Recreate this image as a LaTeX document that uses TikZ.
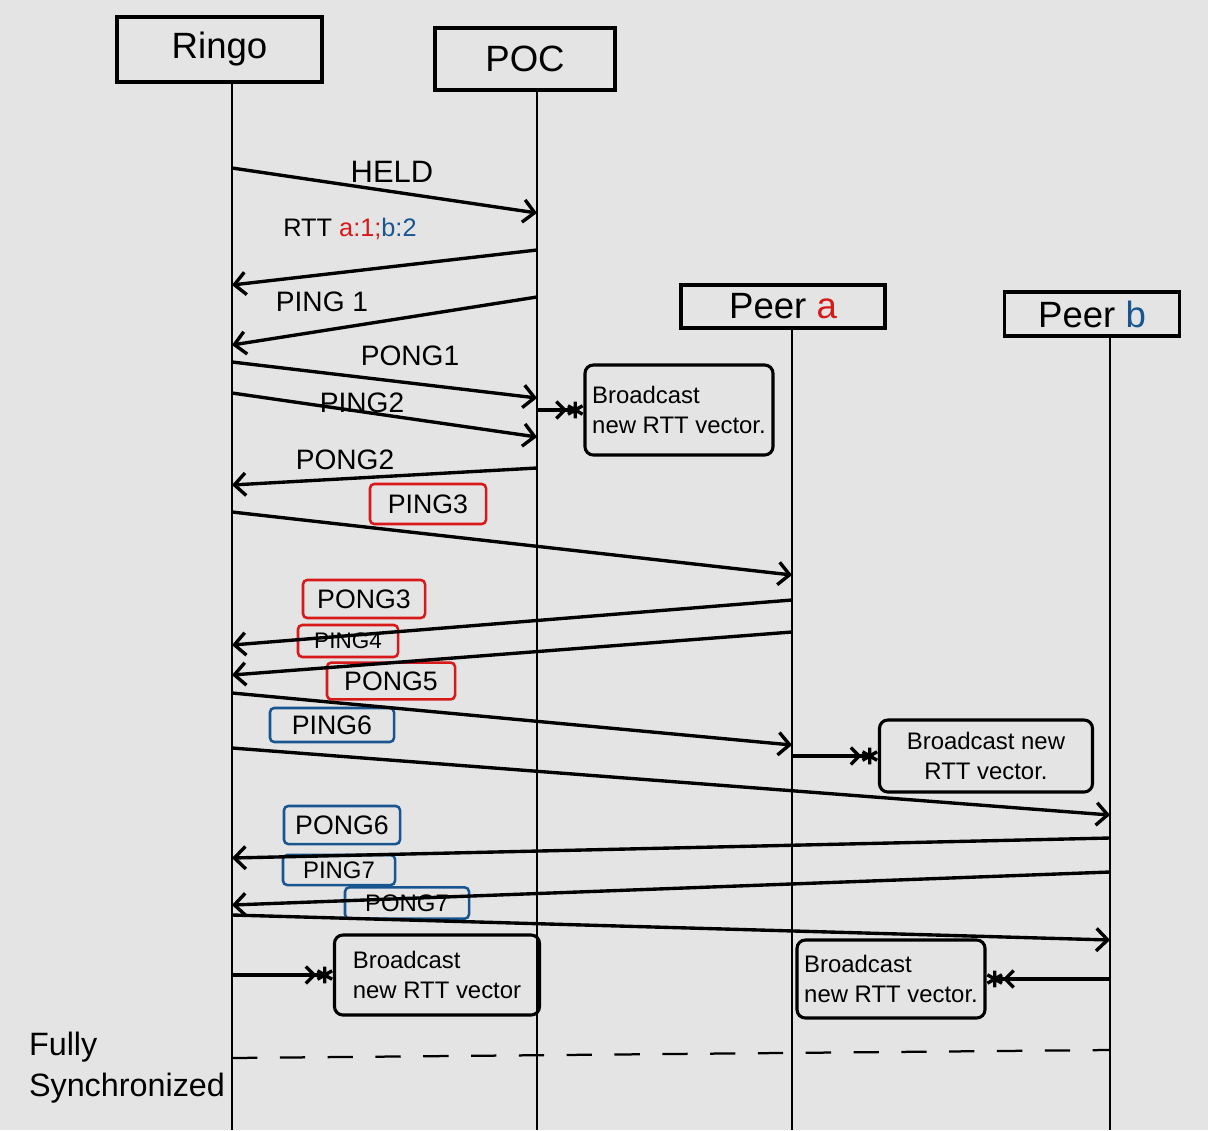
\documentclass[tikz,border=0pt]{standalone}
\usepackage{fontspec}
\setmainfont{Liberation Sans}
\usetikzlibrary{arrows.meta}
\definecolor{bg}{RGB}{228,228,228}
\definecolor{inkred}{RGB}{215,25,25}
\definecolor{inkblue}{RGB}{25,85,145}
\begin{document}
\begin{tikzpicture}[x=0.025cm,y=-0.025cm,
  actor/.style={draw,line width=2.2pt,inner sep=0pt,font=\fontsize{26}{30}\selectfont},
  life/.style={line width=1.5pt},
  msg/.style={line width=2.4pt,-{Straight Barb[length=8pt,width=16pt]}},
  star/.style={line width=2.4pt,-{Straight Barb[length=6pt,width=12pt] Rays[n=6,length=12pt,width=12pt]}},
  lbl/.style={font=\fontsize{20}{24}\selectfont},
  tag/.style={draw=#1,line width=1.8pt,rounded corners=3pt,inner sep=1pt,font=\fontsize{19}{22}\selectfont},
  bcast/.style={draw,line width=2.2pt,rounded corners=6pt,inner sep=2pt,font=\fontsize{17}{21}\selectfont}]
\fill[bg] (0,0) rectangle (1208,1130);
\useasboundingbox (0,0) rectangle (1208,1130);
% actors
\node[actor,minimum width=5.125cm,minimum height=1.625cm] (ringo) at (219.5,49.5) {Ringo};
\node[actor,minimum width=4.5cm,minimum height=1.55cm] (poc) at (525,59) {POC};
\node[actor,minimum width=5.1cm,minimum height=1.075cm] (peera) at (783,306.5) {Peer {\color{inkred}a}};
\node[actor,minimum width=4.375cm,minimum height=1.1cm] (peerb) at (1092,314) {Peer {\color{inkblue}b}};
% lifeline anchors
\coordinate (R) at (232,0);
\coordinate (P) at (537,0);
\coordinate (A) at (792,0);
\coordinate (B) at (1110,0);
\coordinate (bottom) at (0,1130);
\draw[life] (ringo.south -| R) -- (R |- bottom);
\draw[life] (poc.south -| P) -- (P |- bottom);
\draw[life] (peera.south -| A) -- (A |- bottom);
\draw[life] (peerb.south -| B) -- (B |- bottom);
% broadcast boxes
\node[bcast,minimum width=4.7cm,minimum height=2.25cm,align=left] (bc1) at (679,410) {Broadcast\\new RTT vector.};
\node[bcast,minimum width=5.325cm,minimum height=1.8cm,align=center] (bc2) at (986,756) {Broadcast new\\RTT vector.};
\node[bcast,minimum width=5.125cm,minimum height=2cm,align=left] (bc3) at (437,975) {Broadcast\\new RTT vector};
\node[bcast,minimum width=4.7cm,minimum height=1.95cm,align=left] (bc4) at (891,979) {Broadcast\\new RTT vector.};
% plain labels
\node[lbl,font=\fontsize{22}{26}\selectfont] (lheld) at (392,172) {HELD};
\node[lbl,font=\fontsize{18}{22}\selectfont] (lrtt) at (350,229) {RTT {\color{inkred}a:1;}{\color{inkblue}b:2}};
\node[lbl] (lping1) at (322,302) {PING 1};
\node[lbl] (lpong1) at (410,356) {PONG1};
\node[lbl] (lping2) at (362,403) {PING2};
\node[lbl] (lpong2) at (345,460) {PONG2};
% boxed labels
\node[tag=inkred,minimum width=2.9cm,minimum height=1.0cm] (p3) at (428,504) {PING3};
\node[tag=inkred,minimum width=3.05cm,minimum height=0.95cm] (q3) at (364,599) {PONG3};
\node[tag=inkred,minimum width=2.5cm,minimum height=0.8cm,font=\fontsize{16}{19}\selectfont] (p4) at (348,641) {PING4};
\node[tag=inkred,minimum width=3.2cm,minimum height=0.92cm] (q5) at (391,681) {PONG5};
\node[tag=inkblue,minimum width=3.1cm,minimum height=0.85cm] (p6) at (332,725) {PING6};
\node[tag=inkblue,minimum width=2.9cm,minimum height=0.95cm] (q6) at (342,825) {PONG6};
\node[tag=inkblue,minimum width=2.8cm,minimum height=0.75cm,font=\fontsize{17}{20}\selectfont] (p7) at (339,870) {PING7};
\node[tag=inkblue,minimum width=3.1cm,minimum height=0.78cm,font=\fontsize{17}{20}\selectfont] (q7) at (407,903) {PONG7};
% messages
\draw[msg] (R |- 0,168) -- (P |- 0,213);
\draw[msg] (P |- 0,250) -- (R |- 0,285);
\draw[msg] (P |- 0,297) -- (R |- 0,345);
\draw[msg] (R |- 0,362) -- (P |- 0,398);
\draw[msg] (R |- 0,393) -- (P |- 0,437);
\draw[star] (P |- bc1.west) -- (bc1.west);
\draw[msg] (P |- 0,468) -- (R |- 0,485);
\draw[msg] (R |- 0,512) -- (A |- 0,575);
\draw[msg] (A |- 0,600) -- (R |- 0,645);
\draw[msg] (A |- 0,632) -- (R |- 0,675);
\draw[msg] (R |- 0,693) -- (A |- 0,745);
\draw[msg] (R |- 0,748) -- (B |- 0,815);
\draw[star] (A |- bc2.west) -- (bc2.west);
\draw[msg] (B |- 0,838) -- (R |- 0,858);
\draw[msg] (B |- 0,872) -- (R |- 0,905);
\draw[msg] (R |- 0,915) -- (B |- 0,940);
\draw[star] (R |- bc3.west) -- (bc3.west);
\draw[star] (B |- bc4.east) -- (bc4.east);
% fully synchronized
\draw[line width=1.6pt,dash pattern=on 18pt off 16pt] (R |- 0,1058) -- (B |- 0,1050);
\node[font=\fontsize{23}{29}\selectfont,align=left] (sync) at (127,1068) {Fully\\Synchronized};
\end{tikzpicture}
\end{document}
